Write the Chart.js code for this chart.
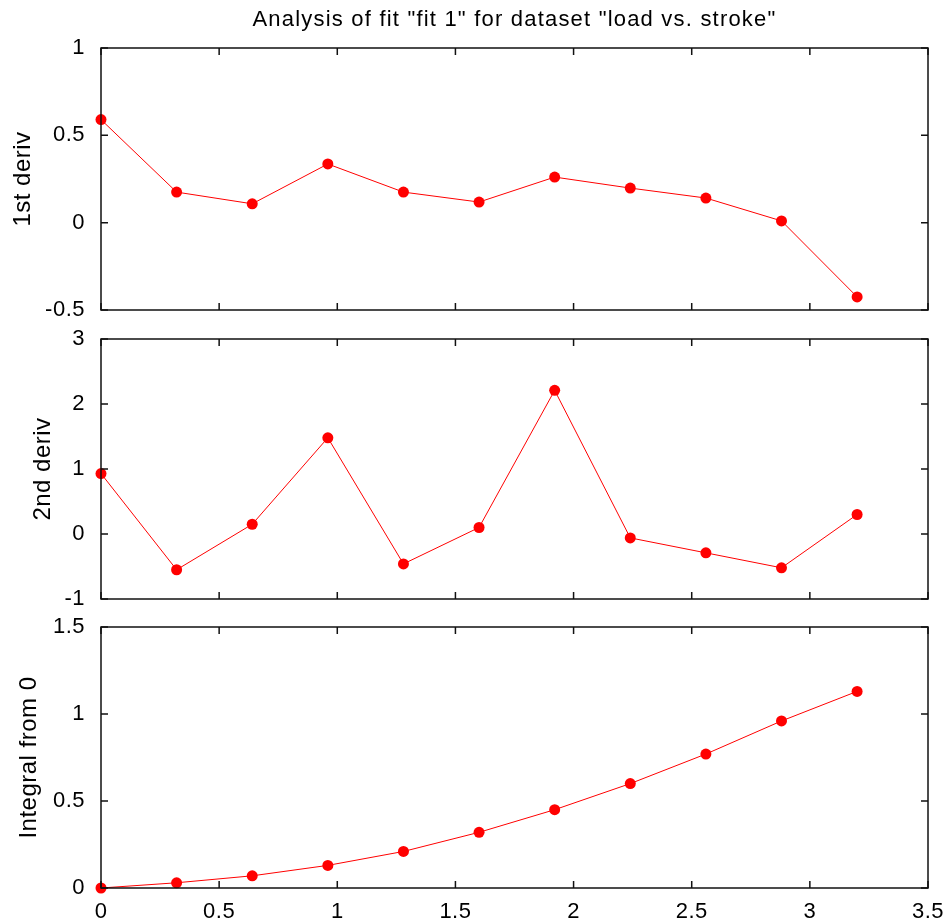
<!DOCTYPE html>
<html>
<head>
<meta charset="utf-8">
<script src="https://cdn.jsdelivr.net/npm/chart.js@4.4.1/dist/chart.umd.min.js"></script>
<style>
  html, body { margin: 0; padding: 0; background: #fff; }
  body { width: 946px; height: 924px; position: relative; overflow: hidden; }
  canvas { position: absolute; left: 0; }
</style>
</head>
<body>
<canvas id="c1" style="top:0px"></canvas>
<canvas id="c2" style="top:315px"></canvas>
<canvas id="c3" style="top:603px"></canvas>
<script>
const titleText = 'Analysis of fit "fit 1" for dataset "load vs. stroke"';

// stroke positions, shared by all three panels
const xs = [0, 0.32, 0.64, 0.96, 1.28, 1.6, 1.92, 2.24, 2.56, 2.88, 3.2];
const firstDeriv = [0.59, 0.175, 0.108, 0.336, 0.175, 0.118, 0.261, 0.198, 0.141, 0.01, -0.425];
const secondDeriv = [0.93, -0.55, 0.15, 1.48, -0.46, 0.1, 2.21, -0.06, -0.29, -0.52, 0.3];
const integral = [0, 0.03, 0.07, 0.13, 0.21, 0.32, 0.45, 0.6, 0.77, 0.96, 1.13];

const xTicks = [0, 0.5, 1, 1.5, 2, 2.5, 3, 3.5];
const yTicks1 = [-0.5, 0, 0.5, 1];
const yTicks2 = [-1, 0, 1, 2, 3];
const yTicks3 = [0, 0.5, 1, 1.5];

const FONT = "'Liberation Sans', Arial, sans-serif";
Chart.defaults.font.family = FONT;
Chart.defaults.color = '#000';

// matlab style box with inward ticks on all four sides
const boxTicks = {
  id: 'boxTicks',
  beforeDraw(chart) {
    chart.ctx.letterSpacing = '0.5px';
  },
  afterDraw(chart, args, opts) {
    const { ctx, chartArea: a, scales } = chart;
    const len = 7;
    ctx.save();
    ctx.strokeStyle = '#111';
    ctx.lineWidth = 1.5;
    ctx.strokeRect(a.left, a.top, a.right - a.left, a.bottom - a.top);
    ctx.beginPath();
    xTicks.forEach(v => {
      const px = scales.x.getPixelForValue(v);
      ctx.moveTo(px, a.bottom); ctx.lineTo(px, a.bottom - len);
      ctx.moveTo(px, a.top); ctx.lineTo(px, a.top + len);
    });
    opts.yTicks.forEach(v => {
      const py = scales.y.getPixelForValue(v);
      ctx.moveTo(a.left, py); ctx.lineTo(a.left + len, py);
      ctx.moveTo(a.right, py); ctx.lineTo(a.right - len, py);
    });
    ctx.stroke();
    if (opts.title) {
      ctx.fillStyle = '#000';
      ctx.font = '22px ' + FONT;
      ctx.letterSpacing = '1.2px';
      ctx.textAlign = 'center';
      ctx.textBaseline = 'middle';
      ctx.fillText(opts.title, (a.left + a.right) / 2, 20);
    }
    ctx.restore();
  }
};

function makePanel(id, h, pad, values, yMin, yMax, step, yTicks, yLabel, labelPad, showX, title) {
  const w = 952;
  const cv = document.getElementById(id);
  cv.width = w; cv.height = h;
  cv.style.width = w + 'px'; cv.style.height = h + 'px';
  return new Chart(cv, {
    type: 'line',
    data: {
      datasets: [{
        data: xs.map((x, i) => ({ x: x, y: values[i] })),
        borderColor: '#ff0000',
        backgroundColor: '#ff0000',
        borderWidth: 1,
        pointRadius: 5.5,
        pointBorderWidth: 0,
        tension: 0,
        clip: false
      }]
    },
    options: {
      responsive: false,
      animation: false,
      layout: { padding: pad },
      plugins: {
        legend: { display: false },
        tooltip: { enabled: false },
        boxTicks: { yTicks: yTicks, title: title }
      },
      scales: {
        x: {
          type: 'linear',
          min: 0, max: 3.5,
          grid: { display: false },
          border: { display: false },
          ticks: {
            display: showX,
            stepSize: 0.5,
            padding: 3,
            font: { size: 22 },
            callback: v => String(v)
          },
          afterFit: s => { s.height = showX ? 36 : 0; }
        },
        y: {
          min: yMin, max: yMax,
          grid: { display: false },
          border: { display: false },
          ticks: {
            stepSize: step,
            padding: 8,
            font: { size: 22 },
            callback: v => String(v)
          },
          title: {
            display: true,
            text: yLabel,
            font: { size: 24 },
            padding: { top: labelPad, bottom: 0 }
          },
          afterFit: s => { s.width = 101; }
        }
      }
    },
    plugins: [boxTicks]
  });
}

makePanel('c1', 334, { top: 48, right: 24, bottom: 24, left: 0 },
  firstDeriv, -0.5, 1, 0.5, yTicks1, '1st deriv', 9, false, titleText);
makePanel('c2', 308, { top: 24, right: 24, bottom: 24, left: 0 },
  secondDeriv, -1, 3, 1, yTicks2, '2nd deriv', 29, false, null);
makePanel('c3', 321, { top: 24, right: 24, bottom: 0, left: 0 },
  integral, 0, 1.5, 0.5, yTicks3, 'Integral from 0', 15, true, null);
</script>
</body>
</html>
